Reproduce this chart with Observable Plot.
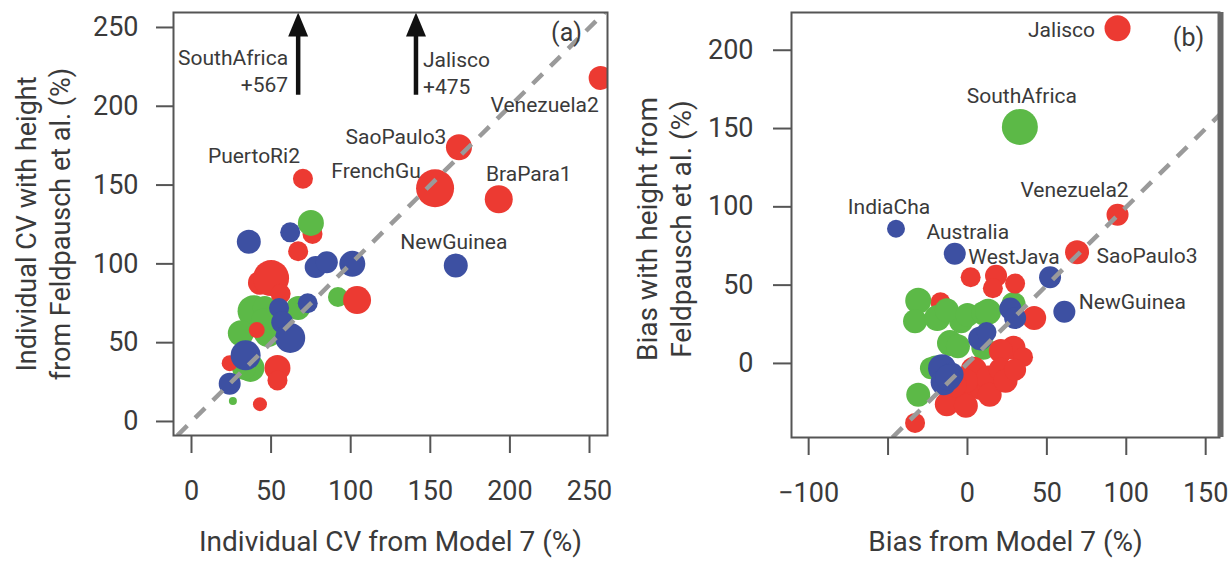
<!DOCTYPE html>
<html><head><meta charset="utf-8">
<script src="https://cdn.jsdelivr.net/npm/d3@7"></script>
<script src="https://cdn.jsdelivr.net/npm/@observablehq/plot@0.6"></script>
<style>
html,body{margin:0;padding:0;background:#fff;}
#wrap{display:flex;width:1232px;height:561px;overflow:hidden;background:#fff;}
#wrap svg{display:block;}
</style></head><body><div id="wrap"></div>
<script>
// ---------- DATA ----------
const groups = ["America", "Africa", "AsiaAustralia"];
const groupColors = ["#ec3a32", "#5cb947", "#3d50a2"];

// Panel (a): individual CV (%)
const aCvModel7 = [39,46,67,48,31,37,33,45,26,92, 43,50,56,104,54,54,24,43,41,67,76,70,153,168,193,257, 75, 36,62,78,85,101,55,73,57,62,34,24,166];
const aCvFeld   = [70,72,72,56,56,34,34,64,13,79, 88,91,81,77,34,26,37,11,58,108,119,154,148,174,141,218, 126, 114,120,98,101,100,72,75,63,53,42,24,99];
const aNTrees   = [256,144,144,196,169,196,144,144,16,100, 144,324,100,196,169,100,64,49,64,100,100,100,361,169,196,144, 169, 144,100,121,121,169,100,100,121,225,225,121,144];
const aGroup    = ["Africa","Africa","Africa","Africa","Africa","Africa","Africa","Africa","Africa","Africa",
  "America","America","America","America","America","America","America","America","America","America","America","America","America","America","America","America",
  "Africa",
  "AsiaAustralia","AsiaAustralia","AsiaAustralia","AsiaAustralia","AsiaAustralia","AsiaAustralia","AsiaAustralia","AsiaAustralia","AsiaAustralia","AsiaAustralia","AsiaAustralia","AsiaAustralia"];
const aSite     = ["","","","","","","","","","", "","","","","","","","","","","","PuertoRi2","FrenchGu","SaoPaulo3","BraPara1","Venezuela2", "", "","","","","","","","","","","","NewGuinea"];

// Panel (a): off-scale sites
const offSite = ["SouthAfrica", "Jalisco"];
const offCvModel7 = [67, 141];
const offCvFeld = [567, 475];

// Panel (b): bias (%)
const bBiasModel7 = [-17, 33,-31,-33,-19,-4,-13,0,10,13,29,-11,-6,10,-23,-20,-31, 94.5,94.5,69,2,18,16,30,42,4,8,-6,-13,29,35,21,14,13,-1,21,14,-1,24,30,-8,-33, -45,-8,52,61,27,30,8,12,-16,-15,-10,-12];
const bBiasFeld   = [39, 151,40,27,29,27,34,31,32,33,38,13,11,10,-3,-2,-20, 214,95,71,55,56,48,51,29,-4,-15,-22,-26,10,4,8,-15,-9,-11,-4,-20,-27,-11,-4,-14,-38, 86,70,55,33,35,29,16,20,-3,-12,-7,-9];
const bNTrees     = [100, 324,169,144,169,144,144,144,144,169,144,169,144,144,121,121,144, 169,121,144,100,121,100,100,144,169,169,196,144,144,100,144,144,144,144,144,144,144,144,121,144,100, 81,121,121,121,121,121,144,100,196,169,144,169];
const bGroup      = ["America",
  "Africa","Africa","Africa","Africa","Africa","Africa","Africa","Africa","Africa","Africa","Africa","Africa","Africa","Africa","Africa","Africa",
  "America","America","America","America","America","America","America","America","America","America","America","America","America","America","America","America","America","America","America","America","America","America","America","America","America",
  "AsiaAustralia","AsiaAustralia","AsiaAustralia","AsiaAustralia","AsiaAustralia","AsiaAustralia","AsiaAustralia","AsiaAustralia","AsiaAustralia","AsiaAustralia","AsiaAustralia","AsiaAustralia"];
const bSite       = ["",
  "SouthAfrica","","","","","","","","","","","","","","","",
  "Jalisco","Venezuela2","SaoPaulo3","","","","","","","","","","","","","","","","","","","","","","",
  "IndiaCha","Australia","WestJava","NewGuinea","","","","","","","",""];

// Ticks
const aXTicks = [0, 50, 100, 150, 200, 250];
const aYTicks = [0, 50, 100, 150, 200, 250];
const bXTicks = [-100, -50, 0, 50, 100, 150];
const bYTicks = [0, 50, 100, 150, 200];
const bXUnlabeled = [-50];

// ---------- LAYOUT / STYLE ----------
const FONT = "Roboto, 'Open Sans', sans-serif";
const textColor = "#3a3a3a";
const aXDomain = [-11.3, 261.3], aYDomain = [-8.9, 259.5];
const bXDomain = [-110.8, 158.7], bYDomain = [-47.3, 224.1];
const arrowBaseY = 207;

const labelOffA = {Venezuela2: [-56, 27], SaoPaulo3: [-63, -10], FrenchGu: [-59, -17], BraPara1: [30, -25], PuertoRi2: [-49, -23], NewGuinea: [-2, -23]};
const labelOffB = {Jalisco: [-56, 2], SouthAfrica: [2, -31], Venezuela2: [-43, -24], IndiaCha: [-7, -21], Australia: [13, -22], WestJava: [-36, -20], SaoPaulo3: [70, 4], NewGuinea: [68, -9]};

const aData = aCvModel7.map((x, i) => ({x, y: aCvFeld[i], n: aNTrees[i], group: aGroup[i], site: aSite[i]}));
const bData = bBiasModel7.map((x, i) => ({x, y: bBiasFeld[i], n: bNTrees[i], group: bGroup[i], site: bSite[i]}));
const offData = offSite.map((s, i) => ({site: s, x: offCvModel7[i], label: s + "\n+" + offCvFeld[i]}));

const arrowHead = {
  draw(context, size) {
    const s = Math.sqrt(size / Math.PI) / 10;
    context.moveTo(0, 0);
    context.lineTo(-10 * s, 24 * s);
    context.lineTo(10 * s, 24 * s);
    context.closePath();
  }
};

const fmt = d => (d < 0 ? "\u2212" + Math.abs(d) : String(d));

function labelMarks(data, offs) {
  return data.filter(d => d.site).map(d => Plot.text([d], {
    x: "x", y: "y", text: "site", dx: offs[d.site][0], dy: offs[d.site][1],
    fontSize: 21, fill: textColor, textAnchor: "middle", lineAnchor: "middle"
  }));
}

function commonMarks(xTicks, yTicks, ySize, yPad, xFmt) {
  return [
    Plot.axisX(xTicks, {anchor: "bottom", tickSize: 18, tickPadding: 27, label: null, fontSize: 27, stroke: "#555", strokeWidth: 2, fill: textColor, tickFormat: xFmt}),
    Plot.axisY(yTicks, {anchor: "left", tickSize: ySize, tickPadding: yPad, label: null, fontSize: 27, stroke: "#555", strokeWidth: 2, fill: textColor, tickFormat: fmt})
  ];
}

const plotA = Plot.plot({
  width: 616, height: 561,
  marginLeft: 173, marginRight: 9, marginTop: 12, marginBottom: 126,
  style: {fontFamily: FONT, background: "white", color: textColor, overflow: "visible"},
  x: {domain: aXDomain},
  y: {domain: aYDomain},
  r: {type: "sqrt", domain: [0, 400], range: [0, 20]},
  color: {domain: groups, range: groupColors},
  marks: [
    ...commonMarks(aXTicks, aYTicks, 17, 18, fmt),
    Plot.dot(aData, {x: "x", y: "y", r: "n", fill: "group", sort: null, clip: true}),
    Plot.link([{a: Math.max(aXDomain[0], aYDomain[0]), b: Math.min(aXDomain[1], aYDomain[1])}], {x1: "a", y1: "a", x2: "b", y2: "b", stroke: "#9a9a9a", strokeWidth: 4.5, strokeDasharray: "14,11", clip: true}),
    Plot.ruleX(offData, {x: "x", y1: arrowBaseY, y2: aYDomain[1] - 5, stroke: "#111", strokeWidth: 4.5}),
    Plot.dot(offData, {x: "x", frameAnchor: "top", r: 10, symbol: arrowHead, fill: "#111", stroke: "none"}),
    Plot.text(offData.filter(d => d.site === "SouthAfrica"), {x: "x", frameAnchor: "top", text: "label", dx: -10, dy: 33, textAnchor: "end", lineAnchor: "top", lineHeight: 1.3, fontSize: 21, fill: textColor}),
    Plot.text(offData.filter(d => d.site === "Jalisco"), {x: "x", frameAnchor: "top", text: "label", dx: 7, dy: 35, textAnchor: "start", lineAnchor: "top", lineHeight: 1.3, fontSize: 21, fill: textColor}),
    ...labelMarks(aData, labelOffA),
    Plot.text(["(a)"], {frameAnchor: "top-right", dx: -41, dy: 20, textAnchor: "middle", lineAnchor: "middle", fontSize: 25, fill: textColor}),
    Plot.text(["Individual CV with height\nfrom Feldpausch et al. (%)"], {frameAnchor: "left", rotate: -90, dx: -131, textAnchor: "middle", lineAnchor: "middle", lineHeight: 1.25, fontSize: 27, fill: textColor}),
    Plot.text(["Individual CV from Model 7 (%)"], {frameAnchor: "bottom", dy: 107, textAnchor: "middle", lineAnchor: "middle", fontSize: 28, fill: textColor}),
    Plot.frame({stroke: "#555", strokeWidth: 2})
  ]
});

const plotB = Plot.plot({
  width: 616, height: 561,
  marginLeft: 175, marginRight: 13, marginTop: 12, marginBottom: 124,
  style: {fontFamily: FONT, background: "white", color: textColor, overflow: "visible"},
  x: {domain: bXDomain},
  y: {domain: bYDomain},
  r: {type: "sqrt", domain: [0, 400], range: [0, 20]},
  color: {domain: groups, range: groupColors},
  marks: [
    ...commonMarks(bXTicks, bYTicks, 18, 20, d => bXUnlabeled.includes(d) ? "" : fmt(d)),
    Plot.dot(bData, {x: "x", y: "y", r: "n", fill: "group", sort: null, clip: true}),
    Plot.link([{a: Math.max(bXDomain[0], bYDomain[0]), b: Math.min(bXDomain[1], bYDomain[1])}], {x1: "a", y1: "a", x2: "b", y2: "b", stroke: "#9a9a9a", strokeWidth: 4.5, strokeDasharray: "14,11", clip: true}),
    ...labelMarks(bData, labelOffB),
    Plot.text(["(b)"], {frameAnchor: "top-right", dx: -31, dy: 25, textAnchor: "middle", lineAnchor: "middle", fontSize: 25, fill: textColor}),
    Plot.text(["Bias with height from\nFeldpausch et al. (%)"], {frameAnchor: "left", rotate: -90, dx: -128, dy: 4, textAnchor: "middle", lineAnchor: "middle", lineHeight: 1.2, fontSize: 28, fill: textColor}),
    Plot.text(["Bias from Model 7 (%)"], {frameAnchor: "bottom", dy: 105, textAnchor: "middle", lineAnchor: "middle", fontSize: 28, fill: textColor}),
    Plot.frame({stroke: "#555", strokeWidth: 2}),
    Plot.ruleX([bXDomain[1]], {stroke: "#666", strokeWidth: 6, dx: 1})
  ]
});

document.getElementById("wrap").append(plotA, plotB);
</script></body></html>
